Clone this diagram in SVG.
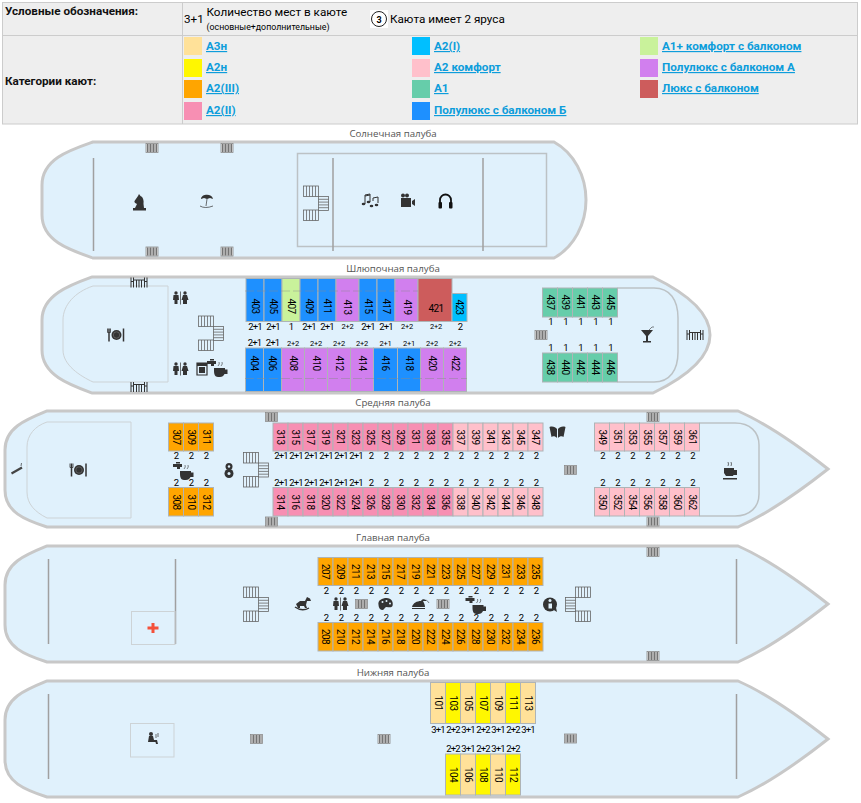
<svg xmlns="http://www.w3.org/2000/svg" width="861" height="803" viewBox="0 0 861 803">
<style>
text{font-family:Roboto,"Liberation Sans",sans-serif;fill:#000}
.lb{font-size:11.7px;font-weight:700;fill:#111}
.lg{font-size:11.7px;font-weight:700;fill:#0d9ddb;text-decoration:underline}
.h{font-size:11.7px}
.hs{font-size:8.8px}
.d{font-family:"Open Sans","Noto Sans",sans-serif;font-size:9.7px;fill:#555;text-anchor:middle}
.hull{fill:#e0f1fc;stroke:#c8c8c8;stroke-width:3}
.in{fill:none;stroke:#cdd3d6;stroke-width:1}
.in2{fill:none;stroke:#bcc2c5;stroke-width:1.500}
.ln{stroke:#a0a0a0;stroke-width:1.500;fill:none}
.dash{stroke:#8a8a8a;stroke-opacity:.45;stroke-width:1;stroke-dasharray:9 3;fill:none}
.cabs rect{stroke:#aeb4b6;stroke-width:1}
.n{font-size:10px;letter-spacing:-.55px;text-anchor:middle;dominant-baseline:central}
.q{font-size:9.500px;letter-spacing:-.9px;text-anchor:middle}
.t{font-size:7.500px;letter-spacing:-.2px;text-anchor:middle}
.a3{fill:#ffe199}.a2n{fill:#fff700}.o{fill:#ffa500}.p2{fill:#f78fb3}.p1{fill:#00bfff}.k{fill:#ffc0cb}.a1{fill:#66cdaa}.b{fill:#1e90ff}.ap{fill:#c9f29b}.v{fill:#d17fee}.r{fill:#cd5c5c}
.ic{fill:#333;stroke:none}
.il{fill:none;stroke:#333}
</style>
<defs>
<g id="vent"><rect x="-6" y="-4.500" width="12" height="9" fill="#e8e8e8" stroke="#8a8a8a" stroke-width=".8"/><path d="M-4.500-4V4M-3-4V4M-1.500-4V4M0-4V4M1.500-4V4M3-4V4M4.500-4V4" stroke="#555" stroke-width=".8"/></g>
<g id="stair" fill="none" stroke="#666" stroke-width=".8"><rect x="0" y="0" width="15" height="10.500"/><rect x="0" y="24" width="15" height="10.500"/><rect x="15" y="10.500" width="10" height="14"/><path d="M3 0V10.500M6 0V10.500M9 0V10.500M12 0V10.500M3 24V34.500M6 24V34.500M9 24V34.500M12 24V34.500M15 13.300H25M15 16.100H25M15 18.900H25M15 21.700H25"/></g>
<g id="plate"><circle r="5" class="ic"/><circle r="3.200" fill="none" stroke="#777" stroke-width=".6"/><path class="il" d="M-7.500-6.500V6.500M7-6.500V6.500" stroke-width="1.500"/><path class="il" d="M-9-6.500V-2.500H-6V-6.500" stroke-width=".8"/></g>
<g id="wc"><circle cx="-4.500" cy="-5" r="1.700" class="ic"/><path class="ic" d="M-7-3H-2L-1.500 2H-3V6H-6V2H-7.500Z"/><circle cx="4.500" cy="-5" r="1.700" class="ic"/><path class="ic" d="M2.500-3H6.500L8 2H6.500V6H2.500V2H1Z"/><path class="il" d="M0-6.500V6.500" stroke-width=".7"/></g>
<g id="tap"><path class="ic" d="M-10-5H-1V-2H-3V0H-6V-2H-10Z"/><rect x="-7" y="-7" width="4" height="1.500" class="ic"/><path class="ic" d="M-3 2H8V3.500H10.500V8H7.500A5 5 0 0 1 3 11H1C-2 11-3 8-3 5Z"/><path class="il" d="M1 0Q3-2 2-4M4 0Q6-2 5-4" stroke-width=".6"/></g>
<g id="tbl"><path class="il" d="M-8-5V5M-5.500-5V5M-8-1H-5.500M8-5V5M5.500-5V5M8-1H5.500M-5.500-2.500H5.500M-2.500-2.500V5M0-2.500V5M2.500-2.500V5" stroke-width="1"/></g>
</defs>

<g id="legend">
<rect x="2.500" y="2.500" width="855" height="121.500" fill="#eee" stroke="#ccc"/>
<path d="M182.500 2.500V124M2.500 35.500H857.500" stroke="#ccc" fill="none"/>
<text class="lb" x="5" y="15">Условные обозначения:</text>
<text class="lb" x="5" y="85">Категории кают:</text>
<text class="h" x="184" y="23">3+1</text>
<text class="h" x="206.500" y="16">Количество мест в каюте</text>
<text class="hs" x="206.500" y="30">(основные+дополнительные)</text>
<rect x="370" y="10" width="18" height="18" fill="#fff"/>
<circle cx="379" cy="19" r="7.500" fill="#fff" stroke="#222" stroke-width="1"/>
<text x="379" y="22.500" font-size="9" font-weight="700" text-anchor="middle">3</text>
<text class="h" x="390" y="23">Каюта имеет 2 яруса</text>
<rect class="a3" x="184" y="37" width="18" height="18"/><text class="lg" x="206" y="50">А3н</text>
<rect class="a2n" x="184" y="59" width="18" height="18"/><text class="lg" x="206" y="71">А2н</text>
<rect class="o" x="184" y="80" width="18" height="18"/><text class="lg" x="206" y="92">А2(III)</text>
<rect class="p2" x="184" y="102" width="18" height="18"/><text class="lg" x="206" y="114">А2(II)</text>
<rect class="p1" x="412" y="37" width="18" height="18"/><text class="lg" x="434" y="50">А2(I)</text>
<rect class="k" x="412" y="59" width="18" height="18"/><text class="lg" x="434" y="71">А2 комфорт</text>
<rect class="a1" x="412" y="80" width="18" height="18"/><text class="lg" x="434" y="92">А1</text>
<rect class="b" x="412" y="102" width="18" height="18"/><text class="lg" x="434" y="114">Полулюкс с балконом Б</text>
<rect class="ap" x="640" y="37" width="18" height="18"/><text class="lg" x="662" y="50">А1+ комфорт с балконом</text>
<rect class="v" x="640" y="59" width="18" height="18"/><text class="lg" x="662" y="71">Полулюкс с балконом А</text>
<rect class="r" x="640" y="80" width="18" height="18"/><text class="lg" x="662" y="92">Люкс с балконом</text>
</g>

<g id="deck1">
<text class="d" x="393" y="137">Солнечная палуба</text>
<path class="hull" d="M93 142H554C574 153 586 176 586 200C586 224 574 247 554 258H93C70 250 42 241 42 215V185C42 159 70 150 93 142Z"/>
<rect class="in2" x="297.500" y="153.500" width="249" height="93"/>
<path class="ln" d="M93.500 158V251M333 158V251M483 158V251"/>
<use href="#vent" x="152" y="148"/><use href="#vent" x="227" y="148"/><use href="#vent" x="152" y="251.500"/><use href="#vent" x="227" y="251.500"/>
<use href="#stair" x="303.500" y="186"/>
<path class="ic" d="M135 208L137 204C136 203 134 203 134.500 201L138 196L139 194L140.500 196C143 197 144 200 143.500 204L144 208H146V210.500H133V208Z"/>
<g transform="translate(207,201)"><path class="ic" d="M-6-2C-6-7 5-8 6-2L3-3L0-2L-3-3Z"/><path class="il" d="M0-2L-1 5M-7 5Q-2 8 6 5" stroke-width=".7"/></g>
<g transform="translate(370,201)"><path class="il" d="M-5 3V-6L0-7V1M3 0V-3L8-4V2M-5-5L0-6" stroke-width="1"/><ellipse cx="-6.500" cy="3" rx="1.800" ry="1.300" class="ic"/><ellipse cx="-1.500" cy="1" rx="1.800" ry="1.300" class="ic"/><ellipse cx="1.500" cy="5" rx="1.800" ry="1.300" class="ic"/><ellipse cx="6.500" cy="4" rx="1.800" ry="1.300" class="ic"/></g>
<g transform="translate(408,201)"><rect x="-7" y="-3" width="10" height="9" class="ic"/><path class="ic" d="M4 0L7-2V5L4 3Z"/><circle cx="-5" cy="-5.500" r="2" class="ic"/><circle cx="-1" cy="-5.500" r="2" class="ic"/></g>
<g transform="translate(445.500,201)"><path class="il" d="M-5.500 3V-1A5.500 5.500 0 0 1 5.500-1V3" stroke-width="1.800" style="stroke:#111"/><rect x="-7" y="1" width="3.500" height="6.500" rx="1" fill="#111"/><rect x="3.500" y="1" width="3.500" height="6.500" rx="1" fill="#111"/></g>
</g>

<g id="deck2">
<text class="d" x="393" y="272">Шлюпочная палуба</text>
<path class="hull" d="M92 277H653C690 295 710 315 710 335C710 355 690 375 653 393H92C70 385 42 375 42 350V320C42 295 70 285 92 277Z"/>
<path class="in" d="M168 286H93C75 292 63 305 63 320V350C63 365 80 376 93 382H168Z"/>
<path class="in2" d="M617.500 288H654C670 288 678 300 678 318V352C678 370 670 382 654 382H617.500"/>
<use href="#tbl" x="139" y="282.500"/><use href="#tbl" x="139" y="387"/>
<use href="#plate" x="116.500" y="335"/>
<use href="#wc" x="180.500" y="298"/><use href="#wc" x="180.500" y="369"/>
<use href="#stair" x="198.500" y="316"/>
<g transform="translate(202,369)"><path class="il" d="M-5-6H5V6H-5Z" stroke-width="1.200"/><rect x="-3" y="-2" width="6" height="6" class="ic"/><rect x="-5" y="-6" width="10" height="3" class="ic"/></g>
<use href="#tap" x="217" y="366"/>
<use href="#vent" x="541" y="335"/>
<g transform="translate(647,335)"><path class="ic" d="M-6-5H6L1 1V6H4V7.500H-4V6H-1V1Z"/><path class="il" d="M2-5L5-8H7" stroke-width=".6"/></g>
<use href="#tbl" x="695" y="335"/>
</g>

<g id="deck2-cabins" class="cabs">
<g id="c403"><rect class="b" x="246" y="278.500" width="18" height="43"/><text class="n" transform="translate(255,306) rotate(90)">403</text><text class="q" x="255" y="330">2+1</text></g>
<g id="c405"><rect class="b" x="264" y="278.500" width="18" height="43"/><text class="n" transform="translate(273,306) rotate(90)">405</text><text class="q" x="273" y="330">2+1</text></g>
<g id="c407"><rect class="ap" x="282" y="278.500" width="18" height="43"/><text class="n" transform="translate(291,306) rotate(90)">407</text><text class="q" x="291" y="330">1</text></g>
<g id="c409"><rect class="b" x="300" y="278.500" width="18" height="43"/><text class="n" transform="translate(309,306) rotate(90)">409</text><text class="q" x="309" y="330">2+1</text></g>
<g id="c411"><rect class="b" x="318" y="278.500" width="18" height="43"/><text class="n" transform="translate(327,306) rotate(90)">411</text><text class="q" x="327" y="330">2+1</text></g>
<g id="c413"><rect class="v" x="336" y="278.500" width="23" height="43"/><text class="n" transform="translate(347.500,307) rotate(90)">413</text><text class="t" x="347.500" y="329">2+2</text></g>
<g id="c415"><rect class="b" x="359" y="278.500" width="18" height="43"/><text class="n" transform="translate(368,306) rotate(90)">415</text><text class="q" x="368" y="330">2+1</text></g>
<g id="c417"><rect class="b" x="377" y="278.500" width="18" height="43"/><text class="n" transform="translate(386,306) rotate(90)">417</text><text class="q" x="386" y="330">2+1</text></g>
<g id="c419"><rect class="v" x="395" y="278.500" width="23" height="43"/><text class="n" transform="translate(407,307) rotate(90)">419</text><text class="t" x="407" y="329">2+2</text></g>
<g id="c421"><rect class="r" x="418" y="278.500" width="34" height="43"/><text class="n" x="436" y="308">421</text><text class="t" x="436" y="329">2+2</text></g>
<g id="c423"><rect class="p1" x="452" y="293.500" width="15" height="28"/><text class="n" transform="translate(459.500,307) rotate(90)">423</text><text class="q" x="460" y="330">2</text></g>
<g id="c404"><rect class="b" x="245.500" y="348" width="18" height="43.500"/><text class="n" transform="translate(254.500,363) rotate(90)">404</text><text class="q" x="254.500" y="346">2+1</text></g>
<g id="c406"><rect class="b" x="263.500" y="348" width="18" height="43.500"/><text class="n" transform="translate(272.500,363) rotate(90)">406</text><text class="q" x="272.500" y="346">2+1</text></g>
<g id="c408"><rect class="v" x="281.500" y="348" width="23" height="43.500"/><text class="n" transform="translate(293,363) rotate(90)">408</text><text class="t" x="293" y="346">2+2</text></g>
<g id="c410"><rect class="v" x="304.500" y="348" width="23" height="43.500"/><text class="n" transform="translate(316,363) rotate(90)">410</text><text class="t" x="316" y="346">2+2</text></g>
<g id="c412"><rect class="v" x="327.500" y="348" width="23" height="43.500"/><text class="n" transform="translate(339,363) rotate(90)">412</text><text class="t" x="339" y="346">2+2</text></g>
<g id="c414"><rect class="v" x="350.500" y="348" width="23" height="43.500"/><text class="n" transform="translate(362,363) rotate(90)">414</text><text class="t" x="362" y="346">2+2</text></g>
<g id="c416"><rect class="b" x="373.500" y="348" width="24" height="43.500"/><text class="n" transform="translate(385.500,363) rotate(90)">416</text><text class="t" x="385.500" y="346">2+1</text></g>
<g id="c418"><rect class="b" x="397.500" y="348" width="23" height="43.500"/><text class="n" transform="translate(409,363) rotate(90)">418</text><text class="t" x="409" y="346">2+1</text></g>
<g id="c420"><rect class="v" x="420.500" y="348" width="23" height="43.500"/><text class="n" transform="translate(432,363) rotate(90)">420</text><text class="t" x="432" y="346">2+2</text></g>
<g id="c422"><rect class="v" x="443.500" y="348" width="23" height="43.500"/><text class="n" transform="translate(455,363) rotate(90)">422</text><text class="t" x="455" y="346">2+2</text></g>
<path class="dash" d="M245 291H418M245 378.500H467"/>
<g id="c437"><rect class="a1" x="542.500" y="288" width="15" height="29"/><text class="n" transform="translate(550,302) rotate(90)">437</text><text class="q" x="550.500" y="325">1</text></g>
<g id="c439"><rect class="a1" x="557.500" y="288" width="15" height="29"/><text class="n" transform="translate(565,302) rotate(90)">439</text><text class="q" x="565.500" y="325">1</text></g>
<g id="c441"><rect class="a1" x="572.500" y="288" width="15" height="29"/><text class="n" transform="translate(580,302) rotate(90)">441</text><text class="q" x="580.500" y="325">1</text></g>
<g id="c443"><rect class="a1" x="587.500" y="288" width="15" height="29"/><text class="n" transform="translate(595,302) rotate(90)">443</text><text class="q" x="595.500" y="325">1</text></g>
<g id="c445"><rect class="a1" x="602.500" y="288" width="15" height="29"/><text class="n" transform="translate(610,302) rotate(90)">445</text><text class="q" x="610.500" y="325">1</text></g>
<g id="c438"><rect class="a1" x="542.500" y="353" width="15" height="29"/><text class="n" transform="translate(550,367) rotate(90)">438</text><text class="q" x="550.500" y="351">1</text></g>
<g id="c440"><rect class="a1" x="557.500" y="353" width="15" height="29"/><text class="n" transform="translate(565,367) rotate(90)">440</text><text class="q" x="565.500" y="351">1</text></g>
<g id="c442"><rect class="a1" x="572.500" y="353" width="15" height="29"/><text class="n" transform="translate(580,367) rotate(90)">442</text><text class="q" x="580.500" y="351">1</text></g>
<g id="c444"><rect class="a1" x="587.500" y="353" width="15" height="29"/><text class="n" transform="translate(595,367) rotate(90)">444</text><text class="q" x="595.500" y="351">1</text></g>
<g id="c446"><rect class="a1" x="602.500" y="353" width="15" height="29"/><text class="n" transform="translate(610,367) rotate(90)">446</text><text class="q" x="610.500" y="351">1</text></g>
</g>

<g id="deck3">
<text class="d" x="393" y="406">Средняя палуба</text>
<path class="hull" d="M47 411H738C770 425 800 447 828 469C800 491 770 513 738 527H47C25 520 5 512 5 490V450C5 428 25 420 47 411Z"/>
<path class="in" d="M131 422H47C35 426 27 435 27 447V492C27 504 35 512 47 518H131Z"/>
<path class="in2" d="M699.500 423H735C750 423 759 432 759 445V494C759 507 750 516 735 516H699.500"/>
<use href="#vent" x="271.500" y="417"/><use href="#vent" x="271.500" y="521.500"/><use href="#vent" x="653" y="417"/><use href="#vent" x="653" y="521.500"/><use href="#vent" x="570.500" y="470"/>
<use href="#stair" x="243.500" y="452.500"/>
<g transform="translate(17,470)"><path class="il" d="M-5.500 3.500L5-2.500" stroke-width="2.200" style="stroke:#444"/><path class="il" d="M4-4L4.500-7" stroke-width=".7"/></g>
<use href="#plate" x="79" y="470"/>
<use href="#tap" x="183" y="469"/>
<g transform="translate(229,470)"><circle cy="-3.500" r="3.500" class="ic"/><circle cy="3.500" r="4.500" class="ic"/><circle cy="-3.500" r="1.200" fill="#e0f1fc"/><circle cy="3.500" r="1.500" fill="#e0f1fc"/></g>
<g transform="translate(557.500,432)"><path class="ic" d="M-8-5C-5-6-2-5-.5-3V6C-2 4-5 4-6 5ZM8-5C5-6 2-5 .5-3V6C2 4 5 4 6 5Z"/></g>
<g transform="translate(730,470)"><path class="ic" d="M-6-2H4V0H7V5H3.500L3 6H-4L-6 3Z"/><rect x="-7" y="8" width="14" height="1.500" class="ic"/><path class="il" d="M-2-4Q-1-6-2-8M1-4Q2-6 1-8" stroke-width=".7"/></g>
</g>

<g id="deck3-cabins" class="cabs">
<g id="c307"><rect class="o" x="168.500" y="423" width="15" height="28"/><text class="n" transform="translate(176,437) rotate(90)">307</text><text class="q" x="176" y="459">2</text></g>
<g id="c309"><rect class="o" x="183.500" y="423" width="15" height="28"/><text class="n" transform="translate(191,437) rotate(90)">309</text><text class="q" x="191" y="459">2</text></g>
<g id="c311"><rect class="o" x="198.500" y="423" width="15" height="28"/><text class="n" transform="translate(206,437) rotate(90)">311</text><text class="q" x="206" y="459">2</text></g>
<g id="c308"><rect class="o" x="168.500" y="487.500" width="15" height="28.500"/><text class="n" transform="translate(176,502) rotate(90)">308</text><text class="q" x="176" y="486">2</text></g>
<g id="c310"><rect class="o" x="183.500" y="487.500" width="15" height="28.500"/><text class="n" transform="translate(191,502) rotate(90)">310</text><text class="q" x="191" y="486">2</text></g>
<g id="c312"><rect class="o" x="198.500" y="487.500" width="15" height="28.500"/><text class="n" transform="translate(206,502) rotate(90)">312</text><text class="q" x="206" y="486">2</text></g>
<g id="c313"><rect class="p2" x="273" y="423" width="15" height="28"/><text class="n" transform="translate(280.500,437) rotate(90)">313</text><text class="q" x="281" y="459">2+1</text></g>
<g id="c315"><rect class="p2" x="288" y="423" width="15" height="28"/><text class="n" transform="translate(295.500,437) rotate(90)">315</text><text class="q" x="296" y="459">2+1</text></g>
<g id="c317"><rect class="p2" x="303" y="423" width="15" height="28"/><text class="n" transform="translate(310.500,437) rotate(90)">317</text><text class="q" x="311" y="459">2+1</text></g>
<g id="c319"><rect class="p2" x="318" y="423" width="15" height="28"/><text class="n" transform="translate(325.500,437) rotate(90)">319</text><text class="q" x="326" y="459">2+1</text></g>
<g id="c321"><rect class="p2" x="333" y="423" width="15" height="28"/><text class="n" transform="translate(340.500,437) rotate(90)">321</text><text class="q" x="341" y="459">2+1</text></g>
<g id="c323"><rect class="p2" x="348" y="423" width="15" height="28"/><text class="n" transform="translate(355.500,437) rotate(90)">323</text><text class="q" x="356" y="459">2+1</text></g>
<g id="c325"><rect class="p2" x="363" y="423" width="15" height="28"/><text class="n" transform="translate(370.500,437) rotate(90)">325</text><text class="q" x="371" y="459">2</text></g>
<g id="c327"><rect class="p2" x="378" y="423" width="15" height="28"/><text class="n" transform="translate(385.500,437) rotate(90)">327</text><text class="q" x="386" y="459">2</text></g>
<g id="c329"><rect class="p2" x="393" y="423" width="15" height="28"/><text class="n" transform="translate(400.500,437) rotate(90)">329</text><text class="q" x="401" y="459">2</text></g>
<g id="c331"><rect class="p2" x="408" y="423" width="15" height="28"/><text class="n" transform="translate(415.500,437) rotate(90)">331</text><text class="q" x="416" y="459">2</text></g>
<g id="c333"><rect class="p2" x="423" y="423" width="15" height="28"/><text class="n" transform="translate(430.500,437) rotate(90)">333</text><text class="q" x="431" y="459">2</text></g>
<g id="c335"><rect class="p2" x="438" y="423" width="15" height="28"/><text class="n" transform="translate(445.500,437) rotate(90)">335</text><text class="q" x="446" y="459">2</text></g>
<g id="c337"><rect class="k" x="453" y="423" width="15" height="28"/><text class="n" transform="translate(460.500,437) rotate(90)">337</text><text class="q" x="461" y="459">2</text></g>
<g id="c339"><rect class="k" x="468" y="423" width="15" height="28"/><text class="n" transform="translate(475.500,437) rotate(90)">339</text><text class="q" x="476" y="459">2</text></g>
<g id="c341"><rect class="k" x="483" y="423" width="15" height="28"/><text class="n" transform="translate(490.500,437) rotate(90)">341</text><text class="q" x="491" y="459">2</text></g>
<g id="c343"><rect class="k" x="498" y="423" width="15" height="28"/><text class="n" transform="translate(505.500,437) rotate(90)">343</text><text class="q" x="506" y="459">2</text></g>
<g id="c345"><rect class="k" x="513" y="423" width="15" height="28"/><text class="n" transform="translate(520.500,437) rotate(90)">345</text><text class="q" x="521" y="459">2</text></g>
<g id="c347"><rect class="k" x="528" y="423" width="15" height="28"/><text class="n" transform="translate(535.500,437) rotate(90)">347</text><text class="q" x="536" y="459">2</text></g>
<g id="c349"><rect class="k" x="594.500" y="423" width="15" height="28"/><text class="n" transform="translate(602,437) rotate(90)">349</text><text class="q" x="602.500" y="459">2</text></g>
<g id="c351"><rect class="k" x="609.500" y="423" width="15" height="28"/><text class="n" transform="translate(617,437) rotate(90)">351</text><text class="q" x="617.500" y="459">2</text></g>
<g id="c353"><rect class="k" x="624.500" y="423" width="15" height="28"/><text class="n" transform="translate(632,437) rotate(90)">353</text><text class="q" x="632.500" y="459">2</text></g>
<g id="c355"><rect class="k" x="639.500" y="423" width="15" height="28"/><text class="n" transform="translate(647,437) rotate(90)">355</text><text class="q" x="647.500" y="459">2</text></g>
<g id="c357"><rect class="k" x="654.500" y="423" width="15" height="28"/><text class="n" transform="translate(662,437) rotate(90)">357</text><text class="q" x="662.500" y="459">2</text></g>
<g id="c359"><rect class="k" x="669.500" y="423" width="15" height="28"/><text class="n" transform="translate(677,437) rotate(90)">359</text><text class="q" x="677.500" y="459">2</text></g>
<g id="c361"><rect class="k" x="684.500" y="423" width="15" height="28"/><text class="n" transform="translate(692,437) rotate(90)">361</text><text class="q" x="692.500" y="459">2</text></g>
<g id="c314"><rect class="p2" x="273" y="487.500" width="15" height="28.500"/><text class="n" transform="translate(280.500,502) rotate(90)">314</text><text class="q" x="281" y="486">2+1</text></g>
<g id="c316"><rect class="p2" x="288" y="487.500" width="15" height="28.500"/><text class="n" transform="translate(295.500,502) rotate(90)">316</text><text class="q" x="296" y="486">2+1</text></g>
<g id="c318"><rect class="p2" x="303" y="487.500" width="15" height="28.500"/><text class="n" transform="translate(310.500,502) rotate(90)">318</text><text class="q" x="311" y="486">2+1</text></g>
<g id="c320"><rect class="p2" x="318" y="487.500" width="15" height="28.500"/><text class="n" transform="translate(325.500,502) rotate(90)">320</text><text class="q" x="326" y="486">2+1</text></g>
<g id="c322"><rect class="p2" x="333" y="487.500" width="15" height="28.500"/><text class="n" transform="translate(340.500,502) rotate(90)">322</text><text class="q" x="341" y="486">2+1</text></g>
<g id="c324"><rect class="p2" x="348" y="487.500" width="15" height="28.500"/><text class="n" transform="translate(355.500,502) rotate(90)">324</text><text class="q" x="356" y="486">2+1</text></g>
<g id="c326"><rect class="p2" x="363" y="487.500" width="15" height="28.500"/><text class="n" transform="translate(370.500,502) rotate(90)">326</text><text class="q" x="371" y="486">2</text></g>
<g id="c328"><rect class="p2" x="378" y="487.500" width="15" height="28.500"/><text class="n" transform="translate(385.500,502) rotate(90)">328</text><text class="q" x="386" y="486">2</text></g>
<g id="c330"><rect class="p2" x="393" y="487.500" width="15" height="28.500"/><text class="n" transform="translate(400.500,502) rotate(90)">330</text><text class="q" x="401" y="486">2</text></g>
<g id="c332"><rect class="p2" x="408" y="487.500" width="15" height="28.500"/><text class="n" transform="translate(415.500,502) rotate(90)">332</text><text class="q" x="416" y="486">2</text></g>
<g id="c334"><rect class="p2" x="423" y="487.500" width="15" height="28.500"/><text class="n" transform="translate(430.500,502) rotate(90)">334</text><text class="q" x="431" y="486">2</text></g>
<g id="c336"><rect class="p2" x="438" y="487.500" width="15" height="28.500"/><text class="n" transform="translate(445.500,502) rotate(90)">336</text><text class="q" x="446" y="486">2</text></g>
<g id="c338"><rect class="k" x="453" y="487.500" width="15" height="28.500"/><text class="n" transform="translate(460.500,502) rotate(90)">338</text><text class="q" x="461" y="486">2</text></g>
<g id="c340"><rect class="k" x="468" y="487.500" width="15" height="28.500"/><text class="n" transform="translate(475.500,502) rotate(90)">340</text><text class="q" x="476" y="486">2</text></g>
<g id="c342"><rect class="k" x="483" y="487.500" width="15" height="28.500"/><text class="n" transform="translate(490.500,502) rotate(90)">342</text><text class="q" x="491" y="486">2</text></g>
<g id="c344"><rect class="k" x="498" y="487.500" width="15" height="28.500"/><text class="n" transform="translate(505.500,502) rotate(90)">344</text><text class="q" x="506" y="486">2</text></g>
<g id="c346"><rect class="k" x="513" y="487.500" width="15" height="28.500"/><text class="n" transform="translate(520.500,502) rotate(90)">346</text><text class="q" x="521" y="486">2</text></g>
<g id="c348"><rect class="k" x="528" y="487.500" width="15" height="28.500"/><text class="n" transform="translate(535.500,502) rotate(90)">348</text><text class="q" x="536" y="486">2</text></g>
<g id="c350"><rect class="k" x="594.500" y="487.500" width="15" height="28.500"/><text class="n" transform="translate(602,502) rotate(90)">350</text><text class="q" x="602.500" y="486">2</text></g>
<g id="c352"><rect class="k" x="609.500" y="487.500" width="15" height="28.500"/><text class="n" transform="translate(617,502) rotate(90)">352</text><text class="q" x="617.500" y="486">2</text></g>
<g id="c354"><rect class="k" x="624.500" y="487.500" width="15" height="28.500"/><text class="n" transform="translate(632,502) rotate(90)">354</text><text class="q" x="632.500" y="486">2</text></g>
<g id="c356"><rect class="k" x="639.500" y="487.500" width="15" height="28.500"/><text class="n" transform="translate(647,502) rotate(90)">356</text><text class="q" x="647.500" y="486">2</text></g>
<g id="c358"><rect class="k" x="654.500" y="487.500" width="15" height="28.500"/><text class="n" transform="translate(662,502) rotate(90)">358</text><text class="q" x="662.500" y="486">2</text></g>
<g id="c360"><rect class="k" x="669.500" y="487.500" width="15" height="28.500"/><text class="n" transform="translate(677,502) rotate(90)">360</text><text class="q" x="677.500" y="486">2</text></g>
<g id="c362"><rect class="k" x="684.500" y="487.500" width="15" height="28.500"/><text class="n" transform="translate(692,502) rotate(90)">362</text><text class="q" x="692.500" y="486">2</text></g>
</g>

<g id="deck4">
<text class="d" x="393" y="541">Главная палуба</text>
<path class="hull" d="M47 546H738C770 560 800 582 828 604C800 626 770 648 738 662H47C25 655 5 647 5 625V585C5 563 25 555 47 546Z"/>
<path class="ln" d="M48.500 559V644M175.500 559V644M736.500 559V644"/>
<rect x="131.500" y="611.500" width="43.500" height="33" fill="none" stroke="#cdd3d6"/>
<path d="M151.500 623H154.500V626.500H158.500V629.500H154.500V633H151.500V629.500H147.500V626.500H151.500Z" fill="#f4513a"/>
<use href="#stair" x="243.500" y="587"/>
<use href="#stair" transform="translate(590.500,587) scale(-1,1)"/>
<use href="#vent" x="653" y="552"/><use href="#vent" x="653" y="656"/>
<use href="#vent" x="361.500" y="604"/><use href="#vent" x="443" y="604"/>
<g transform="translate(303,604)"><path class="ic" d="M-7 0L-3-3H2L4-7L7-5.500L8-3L4-3L3 1L4 4H2L1 2H-3L-3 4H-5Z"/><path class="il" d="M-8 3Q-1 8 6 4" stroke-width="1.400"/></g>
<use href="#wc" x="340.500" y="604"/>
<g transform="translate(385.500,604)"><path class="ic" d="M-7 1C-8-4-3-6 1-6C6-6 8-2 7 2C6 4 3 3 1 3C-1 3-1 6-3 6C-5 6-7 4-7 1Z"/><circle cx="-3" cy="-2" r="1" fill="#e0f1fc"/><circle cx="1" cy="-3" r="1" fill="#e0f1fc"/><circle cx="4.500" cy="-.500" r="1" fill="#e0f1fc"/></g>
<g transform="translate(420,604)"><path class="ic" d="M-8 3C-7-1-3-3 1-3C2-5 4-5 6-4V-3L3-3C4-1 5 1 5 3ZM-8 4H5V5H-8Z"/><path class="il" d="M6-4Q8-3 9-1" stroke-width=".6"/></g>
<use href="#tap" x="475.500" y="603"/>
<g transform="translate(550,604.500)"><circle r="7" class="ic"/><path class="ic" d="M3 5L7 7.500L6 3Z"/><rect x="-1.500" y="-1" width="3.500" height="5" fill="#e0f1fc"/><circle cx="0" cy="-4" r="1.500" fill="#e0f1fc"/></g>
</g>

<g id="deck4-cabins" class="cabs">
<g id="c207"><rect class="o" x="318" y="557.500" width="15" height="28"/><text class="n" transform="translate(325.500,571.500) rotate(90)">207</text><text class="q" x="326" y="593.500">2</text></g>
<g id="c209"><rect class="o" x="333" y="557.500" width="15" height="28"/><text class="n" transform="translate(340.500,571.500) rotate(90)">209</text><text class="q" x="341" y="593.500">2</text></g>
<g id="c211"><rect class="o" x="348" y="557.500" width="15" height="28"/><text class="n" transform="translate(355.500,571.500) rotate(90)">211</text><text class="q" x="356" y="593.500">2</text></g>
<g id="c213"><rect class="o" x="363" y="557.500" width="15" height="28"/><text class="n" transform="translate(370.500,571.500) rotate(90)">213</text><text class="q" x="371" y="593.500">2</text></g>
<g id="c215"><rect class="o" x="378" y="557.500" width="15" height="28"/><text class="n" transform="translate(385.500,571.500) rotate(90)">215</text><text class="q" x="386" y="593.500">2</text></g>
<g id="c217"><rect class="o" x="393" y="557.500" width="15" height="28"/><text class="n" transform="translate(400.500,571.500) rotate(90)">217</text><text class="q" x="401" y="593.500">2</text></g>
<g id="c219"><rect class="o" x="408" y="557.500" width="15" height="28"/><text class="n" transform="translate(415.500,571.500) rotate(90)">219</text><text class="q" x="416" y="593.500">2</text></g>
<g id="c221"><rect class="o" x="423" y="557.500" width="15" height="28"/><text class="n" transform="translate(430.500,571.500) rotate(90)">221</text><text class="q" x="431" y="593.500">2</text></g>
<g id="c223"><rect class="o" x="438" y="557.500" width="15" height="28"/><text class="n" transform="translate(445.500,571.500) rotate(90)">223</text><text class="q" x="446" y="593.500">2</text></g>
<g id="c225"><rect class="o" x="453" y="557.500" width="15" height="28"/><text class="n" transform="translate(460.500,571.500) rotate(90)">225</text><text class="q" x="461" y="593.500">2</text></g>
<g id="c227"><rect class="o" x="468" y="557.500" width="15" height="28"/><text class="n" transform="translate(475.500,571.500) rotate(90)">227</text><text class="q" x="476" y="593.500">2</text></g>
<g id="c229"><rect class="o" x="483" y="557.500" width="15" height="28"/><text class="n" transform="translate(490.500,571.500) rotate(90)">229</text><text class="q" x="491" y="593.500">2</text></g>
<g id="c231"><rect class="o" x="498" y="557.500" width="15" height="28"/><text class="n" transform="translate(505.500,571.500) rotate(90)">231</text><text class="q" x="506" y="593.500">2</text></g>
<g id="c233"><rect class="o" x="513" y="557.500" width="15" height="28"/><text class="n" transform="translate(520.500,571.500) rotate(90)">233</text><text class="q" x="521" y="593.500">2</text></g>
<g id="c235"><rect class="o" x="528" y="557.500" width="15" height="28"/><text class="n" transform="translate(535.500,571.500) rotate(90)">235</text><text class="q" x="536" y="593.500">2</text></g>
<g id="c208"><rect class="o" x="318" y="622.500" width="15" height="28.500"/><text class="n" transform="translate(325.500,636.500) rotate(90)">208</text><text class="q" x="326" y="620.500">2</text></g>
<g id="c210"><rect class="o" x="333" y="622.500" width="15" height="28.500"/><text class="n" transform="translate(340.500,636.500) rotate(90)">210</text><text class="q" x="341" y="620.500">2</text></g>
<g id="c212"><rect class="o" x="348" y="622.500" width="15" height="28.500"/><text class="n" transform="translate(355.500,636.500) rotate(90)">212</text><text class="q" x="356" y="620.500">2</text></g>
<g id="c214"><rect class="o" x="363" y="622.500" width="15" height="28.500"/><text class="n" transform="translate(370.500,636.500) rotate(90)">214</text><text class="q" x="371" y="620.500">2</text></g>
<g id="c216"><rect class="o" x="378" y="622.500" width="15" height="28.500"/><text class="n" transform="translate(385.500,636.500) rotate(90)">216</text><text class="q" x="386" y="620.500">2</text></g>
<g id="c218"><rect class="o" x="393" y="622.500" width="15" height="28.500"/><text class="n" transform="translate(400.500,636.500) rotate(90)">218</text><text class="q" x="401" y="620.500">2</text></g>
<g id="c220"><rect class="o" x="408" y="622.500" width="15" height="28.500"/><text class="n" transform="translate(415.500,636.500) rotate(90)">220</text><text class="q" x="416" y="620.500">2</text></g>
<g id="c222"><rect class="o" x="423" y="622.500" width="15" height="28.500"/><text class="n" transform="translate(430.500,636.500) rotate(90)">222</text><text class="q" x="431" y="620.500">2</text></g>
<g id="c224"><rect class="o" x="438" y="622.500" width="15" height="28.500"/><text class="n" transform="translate(445.500,636.500) rotate(90)">224</text><text class="q" x="446" y="620.500">2</text></g>
<g id="c226"><rect class="o" x="453" y="622.500" width="15" height="28.500"/><text class="n" transform="translate(460.500,636.500) rotate(90)">226</text><text class="q" x="461" y="620.500">2</text></g>
<g id="c228"><rect class="o" x="468" y="622.500" width="15" height="28.500"/><text class="n" transform="translate(475.500,636.500) rotate(90)">228</text><text class="q" x="476" y="620.500">2</text></g>
<g id="c230"><rect class="o" x="483" y="622.500" width="15" height="28.500"/><text class="n" transform="translate(490.500,636.500) rotate(90)">230</text><text class="q" x="491" y="620.500">2</text></g>
<g id="c232"><rect class="o" x="498" y="622.500" width="15" height="28.500"/><text class="n" transform="translate(505.500,636.500) rotate(90)">232</text><text class="q" x="506" y="620.500">2</text></g>
<g id="c234"><rect class="o" x="513" y="622.500" width="15" height="28.500"/><text class="n" transform="translate(520.500,636.500) rotate(90)">234</text><text class="q" x="521" y="620.500">2</text></g>
<g id="c236"><rect class="o" x="528" y="622.500" width="15" height="28.500"/><text class="n" transform="translate(535.500,636.500) rotate(90)">236</text><text class="q" x="536" y="620.500">2</text></g>
</g>

<g id="deck5">
<text class="d" x="393" y="676">Нижняя палуба</text>
<path class="hull" d="M47 681H738C770 695 800 717 828 739C800 761 770 783 738 797H47C25 790 5 782 5 760V720C5 698 25 690 47 681Z"/>
<path class="ln" d="M48.500 694V779M736.500 694V779"/>
<rect x="130.500" y="723.500" width="43.500" height="33.500" fill="none" stroke="#cdd3d6"/>
<g transform="translate(153,739)"><circle cx="-2" cy="-5" r="2" class="ic"/><path class="ic" d="M-4-3H0L1 1L4 1L5 5H3L2.500 3H-2L-5 3Z"/><path class="il" d="M3-5V-1M5-6V-2" stroke-width=".7"/></g>
<use href="#vent" x="256.500" y="739"/><use href="#vent" x="384" y="739"/><use href="#vent" x="570.500" y="738.500"/>
</g>

<g id="deck5-cabins" class="cabs">
<g id="c101"><rect class="a3" x="430.500" y="682.500" width="15" height="41"/><text class="n" transform="translate(438,703) rotate(90)">101</text><text class="q" x="438" y="732.500">3+1</text></g>
<g id="c103"><rect class="a2n" x="445.500" y="682.500" width="15" height="41"/><text class="n" transform="translate(453,703) rotate(90)">103</text><text class="q" x="453" y="732.500">2+2</text></g>
<g id="c105"><rect class="a3" x="460.500" y="682.500" width="15" height="41"/><text class="n" transform="translate(468,703) rotate(90)">105</text><text class="q" x="468" y="732.500">3+1</text></g>
<g id="c107"><rect class="a2n" x="475.500" y="682.500" width="15" height="41"/><text class="n" transform="translate(483,703) rotate(90)">107</text><text class="q" x="483" y="732.500">2+2</text></g>
<g id="c109"><rect class="a3" x="490.500" y="682.500" width="15" height="41"/><text class="n" transform="translate(498,703) rotate(90)">109</text><text class="q" x="498" y="732.500">3+1</text></g>
<g id="c111"><rect class="a2n" x="505.500" y="682.500" width="15" height="41"/><text class="n" transform="translate(513,703) rotate(90)">111</text><text class="q" x="513" y="732.500">2+2</text></g>
<g id="c113"><rect class="a3" x="520.500" y="682.500" width="15" height="41"/><text class="n" transform="translate(528,703) rotate(90)">113</text><text class="q" x="528" y="732.500">3+1</text></g>
<g id="c104"><rect class="a2n" x="445.500" y="754" width="15" height="41"/><text class="n" transform="translate(453,774.500) rotate(90)">104</text><text class="q" x="453" y="752">2+2</text></g>
<g id="c106"><rect class="a3" x="460.500" y="754" width="15" height="41"/><text class="n" transform="translate(468,774.500) rotate(90)">106</text><text class="q" x="468" y="752">3+1</text></g>
<g id="c108"><rect class="a2n" x="475.500" y="754" width="15" height="41"/><text class="n" transform="translate(483,774.500) rotate(90)">108</text><text class="q" x="483" y="752">2+2</text></g>
<g id="c110"><rect class="a3" x="490.500" y="754" width="15" height="41"/><text class="n" transform="translate(498,774.500) rotate(90)">110</text><text class="q" x="498" y="752">3+1</text></g>
<g id="c112"><rect class="a2n" x="505.500" y="754" width="15" height="41"/><text class="n" transform="translate(513,774.500) rotate(90)">112</text><text class="q" x="513" y="752">2+2</text></g>
</g>
</svg>
